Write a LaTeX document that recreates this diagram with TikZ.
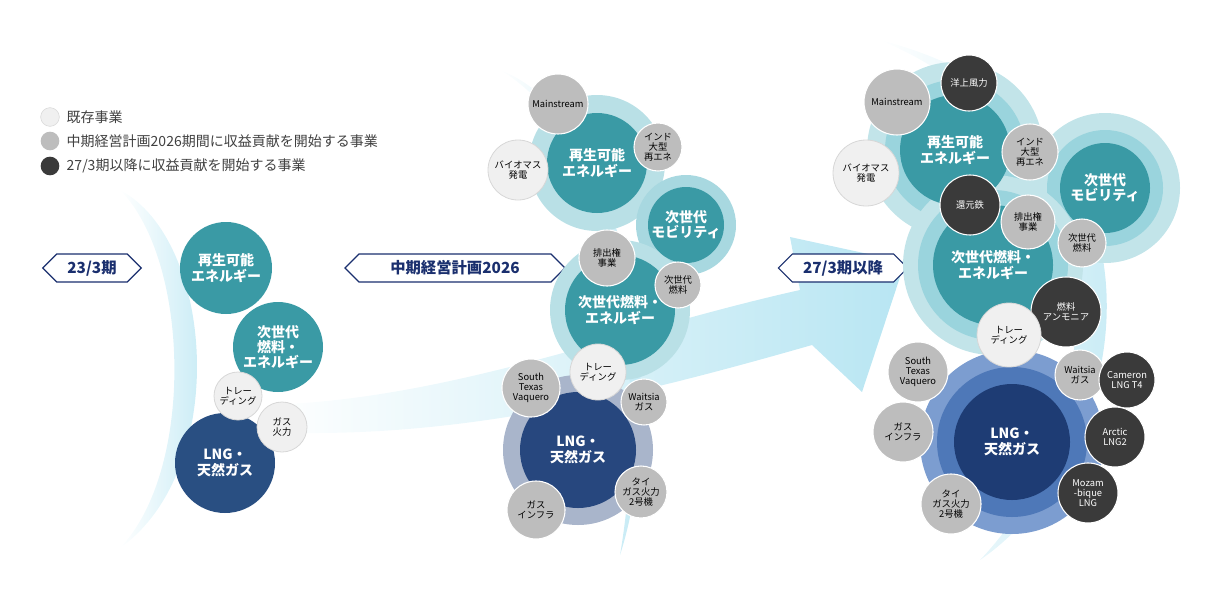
\documentclass[tikz,border=0pt]{standalone}
\usepackage{fontspec}
\setmainfont{Noto Sans CJK JP}
\usetikzlibrary{shapes.symbols}
\definecolor{teal1}{HTML}{3A9AA5}
\definecolor{halo1}{HTML}{A8D8E0}
\definecolor{halo2}{HTML}{6FC2CF}
\definecolor{navy1}{HTML}{27477E}
\definecolor{navyd}{HTML}{1E3C74}
\definecolor{blue2}{HTML}{7C9DD0}
\definecolor{blue3}{HTML}{4E78B8}
\definecolor{gr}{HTML}{BDBDBD}
\definecolor{lt}{HTML}{F0F0F0}
\definecolor{dk}{HTML}{3A3A3A}
\definecolor{tag}{HTML}{1A2F6E}
\definecolor{cy}{rgb}{0.72,0.90,0.95}
\definecolor{wh}{rgb}{1,1,1}
\newcommand\bub[6]{\node[#1,circle,minimum size={1.5pt*#4},inner sep=0pt,align=center] (#6) at (#2,#3) {#5};}
\tikzset{
 big/.style={fill=teal1,text=white,font=\fontsize{10.5}{11.5}\selectfont\bfseries},
 lng/.style={fill=navy1,text=white,font=\fontsize{10.5}{11.5}\selectfont\bfseries},
 g/.style={fill=gr,draw=white,line width=0.8pt,font=\fontsize{7}{7.5}\selectfont},
 l/.style={fill=lt,draw=gr!60,line width=0.6pt,font=\fontsize{7}{7.5}\selectfont},
 d/.style={fill=dk,draw=white,line width=0.8pt,text=white,font=\fontsize{7}{7.5}\selectfont},
 tagbox/.style={signal,signal to=west and east,draw=tag,line width=0.9pt,fill=white,text=tag,font=\fontsize{11.5}{12}\selectfont\bfseries,minimum height=21pt,inner xsep=8pt},
 leg/.style={anchor=west,font=\fontsize{10.5}{11}\selectfont,text=black!75}
}
\begin{document}
\begin{tikzpicture}[x=0.75pt,y=-0.75pt]
\useasboundingbox (0,0) rectangle (1220,589);
% swooshes
\shade[left color=wh,right color=cy] (265,405) .. controls (450,400) and (620,330) .. (800,290) -- (790,237) -- (905,262) -- (862,392) -- (812,345) .. controls (620,400) and (450,440) .. (265,432) -- cycle;
\shade[left color=wh,right color=cy] (120,190) .. controls (215,240) and (230,470) .. (120,548) .. controls (195,470) and (190,260) .. (120,190) -- cycle;
\shade[left color=wh,right color=cy] (500,70) .. controls (630,120) and (670,400) .. (620,555) .. controls (650,380) and (620,140) .. (500,70) -- cycle;
\shade[left color=wh,right color=cy] (880,40) .. controls (1190,120) and (1140,450) .. (980,560) .. controls (1105,430) and (1140,150) .. (880,40) -- cycle;
% legend
\node[circle,fill=lt,draw=gr!60,minimum size=14pt,inner sep=0] (L1) at (50,117) {};
\node[circle,fill=gr,minimum size=14pt,inner sep=0] (L2) at (50,141) {};
\node[circle,fill=dk,minimum size=14pt,inner sep=0] (L3) at (50,166) {};
\node[leg] (T1) at (62,117) {既存事業};
\node[leg] (T2) at (62,141) {中期経営計画2026期間に収益貢献を開始する事業};
\node[leg] (T3) at (62,166) {27/3期以降に収益貢献を開始する事業};
% tags
\node[tagbox] (tag1) at (92,268) {23/3期};
\node[tagbox,minimum width=165pt] (tag2) at (455,268) {中期経営計画2026};
\node[tagbox] (tag3) at (843,268) {27/3期以降};
% stage 1
\bub{big}{226}{268}{46}{再生可能\\エネルギー}{a1}
\bub{big}{278}{347}{45}{次世代\\燃料・\\エネルギー}{a2}
\bub{lng,fill=navy1!90!teal1}{225}{463}{50}{LNG・\\天然ガス}{a3}
\bub{l}{238}{396}{24}{トレー\\ディング}{a4}
\bub{l}{282}{427}{25}{ガス\\火力}{a5}
% stage 2 halos
\fill[halo1!80] (597,163) circle[radius=68];
\fill[halo1] (686,225) circle[radius=50];
\fill[halo1!80] (620,310) circle[radius=70];
\fill[navy1!40] (578,450) circle[radius=75];
\bub{big}{597}{163}{50}{再生可能\\エネルギー}{b1}
\bub{big}{686}{225}{38}{次世代\\モビリティ}{b2}
\bub{big}{620}{310}{55}{次世代燃料・\\エネルギー}{b3}
\bub{lng}{578}{450}{58}{LNG・\\天然ガス}{b4}
\bub{g}{558}{104}{30}{Mainstream}{b5}
\bub{g}{658}{147}{24}{インド\\大型\\再エネ}{b6}
\bub{l}{518}{170}{30}{バイオマス\\発電}{b7}
\bub{g}{607}{258}{28}{排出権\\事業}{b8}
\bub{g}{678}{285}{23}{次世代\\燃料}{b9}
\bub{l}{598}{372}{28}{トレー\\ディング}{b10}
\bub{g}{531}{388}{29}{South\\Texas\\Vaquero}{b11}
\bub{g}{644}{402}{23}{Waitsia\\ガス}{b12}
\bub{g}{536}{510}{29}{ガス\\インフラ}{b13}
\bub{g}{641}{492}{26}{タイ\\ガス火力\\2号機}{b14}
% stage 3 halos
\fill[halo1!70] (955,150) circle[radius=88];
\fill[halo2!70] (955,150) circle[radius=70];
\fill[halo1!70] (1105,188) circle[radius=75];
\fill[halo2!70] (1105,188) circle[radius=58];
\fill[halo1!70] (993,265) circle[radius=90];
\fill[halo2!70] (993,265) circle[radius=75];
\fill[blue2] (1012,442) circle[radius=92];
\fill[blue3] (1012,442) circle[radius=75];
\bub{big}{955}{150}{55}{再生可能\\エネルギー}{c1}
\bub{big}{1105}{188}{45}{次世代\\モビリティ}{c2}
\bub{big}{993}{265}{60}{次世代燃料・\\エネルギー}{c3}
\bub{lng,fill=navyd}{1012}{442}{58}{LNG・\\天然ガス}{c4}
\bub{g}{897}{102}{33}{Mainstream}{c5}
\bub{d}{969}{83}{28}{洋上風力}{c6}
\bub{g}{1030}{152}{28}{インド\\大型\\再エネ}{c7}
\bub{l}{866}{173}{33}{バイオマス\\発電}{c8}
\bub{d}{970}{205}{30}{還元鉄}{c9}
\bub{g}{1028}{222}{27}{排出権\\事業}{c10}
\bub{g}{1082}{243}{24}{次世代\\燃料}{c11}
\bub{d}{1066}{312}{35}{燃料\\アンモニア}{c12}
\bub{l}{1009}{335}{32}{トレー\\ディング}{c13}
\bub{g}{918}{372}{30}{South\\Texas\\Vaquero}{c14}
\bub{g}{1080}{375}{25}{Waitsia\\ガス}{c15}
\bub{d}{1127}{380}{28}{Cameron\\LNG T4}{c16}
\bub{g}{903}{432}{30}{ガス\\インフラ}{c17}
\bub{d}{1115}{437}{30}{Arctic\\LNG2}{c18}
\bub{g}{951}{504}{30}{タイ\\ガス火力\\2号機}{c19}
\bub{d}{1088}{493}{30}{Mozam\\-bique\\LNG}{c20}
\end{tikzpicture}
\end{document}
